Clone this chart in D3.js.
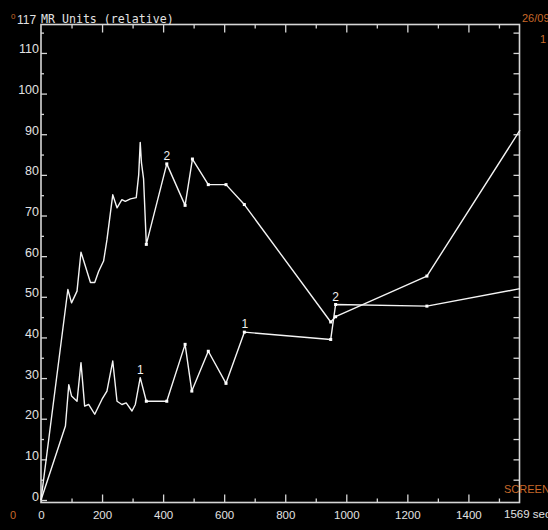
<!DOCTYPE html>
<html>
<head>
<meta charset="utf-8">
<script src="https://cdn.jsdelivr.net/npm/d3@7"></script>
<style>
    body { margin: 0; background: #000; }
    svg { display: block; }
</style>
</head>
<body>
<div id="chart_div"></div>
<script>
// time (s) and relative MR units
let t1 = [0, 80, 91, 100, 118, 131, 143, 156, 176, 200, 216, 235, 249, 265, 279, 298, 309, 325, 345, 412, 472, 494, 548, 606, 666, 949, 965, 1264, 1569];
let v1 = [0, 18.2, 28.4, 25.6, 24.3, 33.8, 23.1, 23.5, 21.1, 24.8, 26.8, 34.2, 24.3, 23.5, 23.9, 21.9, 23.5, 30.1, 24.3, 24.3, 38.3, 26.8, 36.6, 28.7, 41.3, 39.5, 48.1, 47.7, 52];

let t2 = [0, 88, 100, 118, 131, 162, 176, 189, 205, 216, 235, 249, 265, 276, 293, 312, 320, 325, 329, 336, 345, 412, 472, 496, 548, 606, 666, 949, 965, 1264, 1569];
let v2 = [0, 51.8, 48.5, 51.4, 61, 53.5, 53.5, 56.3, 58.8, 64, 75.1, 71.9, 73.9, 73.5, 74.1, 74.4, 80, 88, 83, 79, 62.9, 82.7, 72.5, 83.9, 77.6, 77.6, 72.7, 43.8, 45.1, 55.1, 91];

// curve labels
let labelText = ["1", "1", "2", "2"];
let labelT = [325, 668, 412, 965];
let labelV = [30.1, 41.3, 82.7, 48.1];

let xMajor = [0, 200, 400, 600, 800, 1000, 1200, 1400];
let xMinor = [100, 300, 500, 700, 900, 1100, 1300, 1500];
let yMajor = [0, 10, 20, 30, 40, 50, 60, 70, 80, 90, 100, 110];
let yMinor = [5, 15, 25, 35, 45, 55, 65, 75, 85, 95, 105, 115];
let yMax = 117, tMax = 1569;

let width = 548, height = 530;
let frameColor = "#d6d6d6", textColor = "#e2e2e2", orange = "#c8692a";

let svg = d3.select("#chart_div")
    .append("svg")
    .attr("width", width)
    .attr("height", height)
    .style("background", "#000");

let x = d3.scaleLinear().domain([0, tMax]).range([41, 520]);
let y = d3.scaleLinear().domain([0, yMax]).range([500, 24.5]);

let top_y = y(yMax), bottom_y = y(0) + 2.5;
let left_x = x(0), right_x = x(tMax) - 0.5;

function styleAxis(g, labels, size) {
    g.select(".domain").remove();
    g.selectAll(".tick line").attr("stroke", frameColor).attr("stroke-width", 1.3);
    if (labels) {
        g.selectAll(".tick text")
            .attr("fill", textColor)
            .style("font-family", "Liberation Sans, Arial, sans-serif")
            .style("font-size", size);
    } else {
        g.selectAll(".tick text").remove();
    }
}

// left axis
svg.append("g")
    .attr("transform", `translate(${left_x},0)`)
    .call(d3.axisLeft(y).tickValues(yMajor).tickSize(-6).tickPadding(2).tickFormat(d3.format("d")))
    .call(g => styleAxis(g, true, "12.5px"))
    .call(g => g.selectAll(".tick text").attr("dy", "0"));

svg.append("g")
    .attr("transform", `translate(${left_x},0)`)
    .call(d3.axisLeft(y).tickValues(yMinor.filter(v => v < yMax)).tickSize(-3))
    .call(g => styleAxis(g, false));

// right frame ticks
svg.append("g")
    .attr("transform", `translate(${right_x},0)`)
    .call(d3.axisRight(y).tickValues(yMajor.concat(yMinor).filter(v => v > 0 && v < yMax)).tickSize(-6))
    .call(g => styleAxis(g, false));

// bottom axis
svg.append("g")
    .attr("transform", `translate(0,${bottom_y})`)
    .call(d3.axisBottom(x).tickValues(xMajor).tickSize(-8).tickPadding(8).tickFormat(d3.format("d")))
    .call(g => styleAxis(g, true, "11.5px"));

svg.append("g")
    .attr("transform", `translate(0,${bottom_y})`)
    .call(d3.axisBottom(x).tickValues(xMinor).tickSize(-4))
    .call(g => styleAxis(g, false));

// top frame ticks
svg.append("g")
    .attr("transform", `translate(0,${top_y})`)
    .call(d3.axisTop(x).tickValues(xMajor.filter(v => v > 0)).tickSize(-8))
    .call(g => styleAxis(g, false));

svg.append("g")
    .attr("transform", `translate(0,${top_y})`)
    .call(d3.axisTop(x).tickValues(xMinor).tickSize(-4))
    .call(g => styleAxis(g, false));

// frame
svg.append("rect")
    .attr("x", left_x)
    .attr("y", top_y)
    .attr("width", right_x - left_x)
    .attr("height", bottom_y - top_y)
    .attr("fill", "none")
    .attr("stroke", frameColor)
    .attr("stroke-width", 1.6);

svg.append("text")
    .attr("x", 504)
    .attr("y", 518)
    .attr("fill", textColor)
    .style("font-family", "Liberation Sans, Arial, sans-serif")
    .style("font-size", "11.5px")
    .text(tMax + " sec");

svg.append("text")
    .attr("x", 17)
    .attr("y", 24)
    .attr("fill", textColor)
    .style("font-family", "Liberation Sans, Arial, sans-serif")
    .style("font-size", "12px")
    .text(yMax);

svg.append("text")
    .attr("x", 41)
    .attr("y", 23)
    .attr("fill", textColor)
    .style("font-family", "DejaVu Sans Mono, monospace")
    .style("font-size", "11.6px")
    .text("MR Units (relative)");

// orange screen annotations
let orangeText = [
    {t: "0", x: 11, y: 19, s: 8},
    {t: "0", x: 10, y: 519, s: 11},
    {t: "26/09", x: 522, y: 22, s: 11},
    {t: "1", x: 540, y: 43, s: 11},
    {t: "SCREEN", x: 504, y: 493, s: 11}
];
svg.selectAll("orange_labels")
    .data(orangeText)
    .join("text")
    .attr("x", d => d.x)
    .attr("y", d => d.y)
    .attr("fill", orange)
    .style("font-family", "Liberation Sans, Arial, sans-serif")
    .style("font-size", d => d.s + "px")
    .text(d => d.t);

// curves
let series = [
    {name: "1", values: t1.map((t, i) => ({t: t, v: v1[i]}))},
    {name: "2", values: t2.map((t, i) => ({t: t, v: v2[i]}))}
];

let line = d3.line()
    .x(d => x(d.t))
    .y(d => y(d.v));

svg.selectAll("myLines")
    .data(series)
    .join("path")
    .attr("d", d => line(d.values))
    .attr("fill", "none")
    .attr("stroke", "#f4f4f4")
    .attr("stroke-width", 1.4)
    .attr("stroke-linejoin", "round");

// sample markers on the later part
svg.selectAll("myDots")
    .data(series)
    .join("g")
    .selectAll("rect")
    .data(d => d.values.filter(p => p.t >= 345 && p.t < tMax))
    .join("rect")
    .attr("x", d => x(d.t) - 1.5)
    .attr("y", d => y(d.v) - 1.5)
    .attr("width", 3)
    .attr("height", 3)
    .attr("fill", "#fff");

svg.selectAll("curve_labels")
    .data(labelText)
    .join("text")
    .attr("x", (d, i) => x(labelT[i]))
    .attr("y", (d, i) => y(labelV[i]) - 4)
    .attr("text-anchor", "middle")
    .attr("fill", "#f0f0f0")
    .style("font-family", "Liberation Sans, Arial, sans-serif")
    .style("font-size", "12px")
    .text(d => d);
</script>
</body>
</html>
